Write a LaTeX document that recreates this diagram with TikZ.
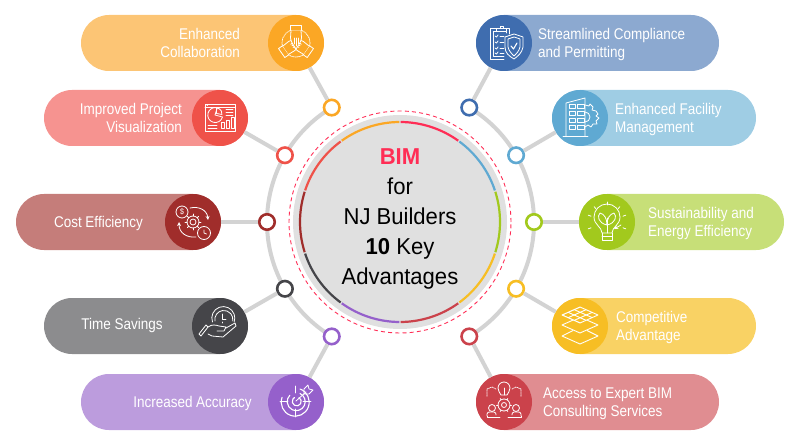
\documentclass[tikz,border=0pt]{standalone}
\usepackage{fontspec}
\setmainfont[FakeStretch=0.87]{Liberation Sans}
\newfontfamily\titlefont[FakeStretch=0.96]{Liberation Sans}
\usetikzlibrary{calc}
\definecolor{pOr}{HTML}{FCC575}\definecolor{cOr}{HTML}{FBA725}
\definecolor{pRe}{HTML}{F69390}\definecolor{cRe}{HTML}{EF5249}
\definecolor{pBr}{HTML}{C57D7A}\definecolor{cBr}{HTML}{A02D2B}
\definecolor{pGy}{HTML}{8C8C8E}\definecolor{cGy}{HTML}{454549}
\definecolor{pPu}{HTML}{BC9CDD}\definecolor{cPu}{HTML}{9560CB}
\definecolor{pBl}{HTML}{8CA9D0}\definecolor{cBl}{HTML}{3F6DAF}
\definecolor{pLb}{HTML}{9FCDE4}\definecolor{cLb}{HTML}{5FA9D2}
\definecolor{pGr}{HTML}{C7DF78}\definecolor{cGr}{HTML}{A2C91D}
\definecolor{pYe}{HTML}{F9D264}\definecolor{cYe}{HTML}{F7BE24}
\definecolor{pRo}{HTML}{E08D91}\definecolor{cRo}{HTML}{CB424B}
\definecolor{cPk}{HTML}{FF2D55}\definecolor{ringgray}{HTML}{D3D3D3}\definecolor{discgray}{HTML}{E0E0E0}
\tikzset{
  pill/.style={rectangle,rounded corners=28pt,minimum height=56pt,inner sep=0pt,draw=none},
  badge/.style={circle,minimum size=56pt,inner sep=0pt,draw=none},
  dotn/.style={circle,minimum size=15.5pt,inner sep=0pt,line width=2.6pt,fill=white},
  link/.style={draw=ringgray,line width=4pt},
  ptext/.style={text=white,font=\fontsize{15.5}{18}\selectfont,inner sep=0pt},
  ic/.style={draw=white,line width=.8pt,line cap=round,line join=round},
  seg/.style={line width=2.2pt},
}
\begin{document}
\begin{tikzpicture}[x=1pt,y=1pt]
\useasboundingbox (0,0) rectangle (800,445);
\coordinate (c) at (400,223);
\coordinate (rc) at (400.5,223);
% disc
\node[circle,fill=discgray,minimum size=214pt,inner sep=0pt] (disc) at (c) {};
\draw[cPk,line width=.9pt,dash pattern=on 4pt off 3.2pt] (c) circle[radius=111];
\foreach \s/\col in {90/cPk,54/cLb,18/cGr,-18/cYe,-54/cRo,-90/cPu,-126/cGy,-162/cBr,-198/cRe,-234/cOr}{
  \draw[seg,\col] ($(c)+(\s-.4:100)$) arc[start angle=\s-.4,end angle=\s-35.6,radius=100];
}
\node[align=center,inner sep=0pt,text=black,font=\titlefont\fontsize{23}{30}\selectfont] (title) at (400,226)
  {{\bfseries\color{cPk}BIM}\\for\\NJ Builders\\{\bfseries 10} Key\\Advantages};
% outer ring
\draw[link] ($(rc)+(121:133.5)$) arc[start angle=121,end angle=239,radius=133.5];
\draw[link] ($(rc)+(59:133.5)$) arc[start angle=59,end angle=-59,radius=133.5];
% pills
\node[pill,fill=pOr,minimum width=243pt] (p1) at (202.5,402) {};
\node[pill,fill=pRe,minimum width=204pt] (p2) at (146,327) {};
\node[pill,fill=pBr,minimum width=205pt] (p3) at (118.5,223) {};
\node[pill,fill=pGy,minimum width=204pt] (p4) at (146,119) {};
\node[pill,fill=pPu,minimum width=243pt] (p5) at (202.5,43) {};
\node[pill,fill=pBl,minimum width=243pt] (p6) at (597.5,402) {};
\node[pill,fill=pLb,minimum width=204pt] (p7) at (654,327) {};
\node[pill,fill=pGr,minimum width=205pt] (p8) at (681.5,223) {};
\node[pill,fill=pYe,minimum width=204pt] (p9) at (654,119) {};
\node[pill,fill=pRo,minimum width=243pt] (p10) at (597.5,43) {};
% badges
\node[badge,fill=cOr] (b1) at (296,402) {};
\node[badge,fill=cRe] (b2) at (220,327) {};
\node[badge,fill=cBr] (b3) at (193,223) {};
\node[badge,fill=cGy] (b4) at (220,119) {};
\node[badge,fill=cPu] (b5) at (296,43) {};
\node[badge,fill=cBl] (b6) at (504,402) {};
\node[badge,fill=cLb] (b7) at (580,327) {};
\node[badge,fill=cGr] (b8) at (607,223) {};
\node[badge,fill=cYe] (b9) at (580,119) {};
\node[badge,fill=cRo] (b10) at (504,43) {};
% dots
\node[dotn,draw=cOr] (d1) at ($(rc)+(121:133.5)$) {};
\node[dotn,draw=cRe] (d2) at ($(rc)+(150:133.5)$) {};
\node[dotn,draw=cBr] (d3) at ($(rc)+(180:133.5)$) {};
\node[dotn,draw=cGy] (d4) at ($(rc)+(210:133.5)$) {};
\node[dotn,draw=cPu] (d5) at ($(rc)+(239:133.5)$) {};
\node[dotn,draw=cBl] (d6) at ($(rc)+(59:133.5)$) {};
\node[dotn,draw=cLb] (d7) at ($(rc)+(30:133.5)$) {};
\node[dotn,draw=cGr] (d8) at ($(rc)+(0:133.5)$) {};
\node[dotn,draw=cYe] (d9) at ($(rc)+(-30:133.5)$) {};
\node[dotn,draw=cRo] (d10) at ($(rc)+(-59:133.5)$) {};
% connectors
\foreach \i in {1,...,10}{\draw[link] (d\i) -- (b\i);}
% texts
\node[ptext,anchor=east,align=right] (t1) at (240,402) {Enhanced\\Collaboration};
\node[ptext,anchor=east,align=right] (t2) at (182,327) {Improved Project\\Visualization};
\node[ptext,anchor=center] (t3) at (98.5,222) {Cost Efficiency};
\node[ptext,anchor=center] (t4) at (122,120) {Time Savings};
\node[ptext,anchor=center] (t5) at (192.5,42) {Increased Accuracy};
\node[ptext,anchor=west,align=left] (t6) at (538,401) {Streamlined Compliance\\and Permitting};
\node[ptext,anchor=west,align=left] (t7) at (615,326) {Enhanced Facility\\Management};
\node[ptext,anchor=west,align=left] (t8) at (648,222) {Sustainability and\\Energy Efficiency};
\node[ptext,anchor=west,align=left] (t9) at (616,118) {Competitive\\Advantage};
\node[ptext,anchor=west,align=left] (t10) at (543,41) {Access to Expert BIM\\Consulting Services};
% ---------- icons
% hands
\begin{scope}[shift={(b1.center)},ic]
\draw[densely dotted] (0,0) circle[radius=14];
\foreach \a in {125,235,0}{
 \begin{scope}[rotate=\a]
 \draw[fill=cOr] (-5.5,12.5) rectangle (5.5,17.5);
 \draw[fill=cOr] (-5,12.5) -- (-5.5,5) .. controls (-5,1) and (-2,-3) .. (0,-6) .. controls (2,-3) and (5,1) .. (5.5,5) -- (5,12.5);
 \draw (-2,5) -- (-2,-1) (0,5) -- (0,-3) (2,5) -- (2,-1);
 \end{scope}}
\end{scope}
% dashboard
\begin{scope}[shift={(b2.center)},ic]
\draw (-15,-13) rectangle (15,14);
\draw (-15,10.5) -- (15,10.5);
\draw (-13,12.2) -- (-12.5,12.2);
\draw (2.5,1) arc[start angle=-15,end angle=-285,radius=7.5] -- (-5,3) -- cycle;
\draw (-3.5,4.5) -- (-3.5,10) arc[start angle=90,end angle=-10,radius=5.5] -- cycle;
\draw (6,9) -- (13,9) (6,6) -- (13,6) (6,3) -- (13,3);
\draw (-12,-7) -- (-3,-7) (-12,-10) -- (-3,-10);
\draw (1,-10) rectangle (4,-4) (6,-10) rectangle (9,-2) (11,-10) rectangle (14,1);
\end{scope}
% cost
\begin{scope}[shift={(b3.center)},ic]
\draw (-11,10) circle[radius=6];
\node[text=white,font=\fontsize{8}{8}\selectfont,inner sep=0pt] (dollar) at (-11,10) {\$};
\draw (0,0) circle[radius=3] (0,0) circle[radius=6];
\foreach \a in {0,45,...,315}{\draw (\a:6) -- (\a:8);}
\draw (11,-11) circle[radius=6.5];
\draw (11,-8) -- (11,-11) -- (13.5,-12);
\draw[-stealth] (-3,14) .. controls (6,16) and (14,12) .. (15,2);
\draw[-stealth] (3,-15) .. controls (-6,-16) and (-14,-11) .. (-14,0);
\end{scope}
% time savings
\begin{scope}[shift={(b4.center)},ic]
\draw (-7.5,4) arc[start angle=200,end angle=-20,radius=11.5];
\draw (-5,5) arc[start angle=190,end angle=-10,radius=9];
\draw (2,12) -- (2,7) -- (6,7);
\draw (2,3) -- (2,4);
\draw (-19,-10) -- (-12,-1) -- (-14,1) -- (-21,-8) -- cycle;
\draw (-12,-1) .. controls (-8,2) and (-4,1) .. (-1,0) -- (6,-1) -- (4,-5) -- (-3,-5);
\draw (6,-2) -- (15,3) -- (16,0) -- (3,-11) -- (-8,-10) -- (-12,-8);
\end{scope}
% target
\begin{scope}[shift={(b5.center)},ic]
\draw (-1,16) -- (-1,9) (-1,-7) -- (-1,-15) (-16,1) -- (-8,1) (7,1) -- (15,1);
\begin{scope}[line width=1.1pt]
\draw (4,13) arc[start angle=70,end angle=-200,radius=14];
\draw (4,8.5) arc[start angle=65,end angle=-225,radius=9];
\draw (3,4.5) arc[start angle=60,end angle=-240,radius=4.5];
\end{scope}
\draw (0,1) -- (10,10);
\draw (8,8) -- (8,13) -- (12,17) -- (13,13) -- (17,12) -- (13,8) -- cycle;
\end{scope}
% compliance
\begin{scope}[shift={(b6.center)},ic]
\draw (5,9) -- (5,15) -- (-14,15) -- (-14,-16) -- (0,-16);
\draw (2,10) -- (2,12) -- (-11,12) -- (-11,-13) -- (0,-13);
\draw (-8,12) -- (-8,15) -- (-4,15) -- (-4,17) -- (-1,17) -- (-1,15) -- (2,15) -- (2,12);
\foreach \y in {7,1,-5,-10}{\draw (-9,\y) -- (-7.5,\y-1) -- (-6,\y+1); \draw (-4,\y) -- (0,\y);}
\draw (10,9) -- (19,6) -- (19,-4) .. controls (18,-10) and (14,-13) .. (10,-16) .. controls (5,-13) and (1,-10) .. (1,-4) -- (1,6) -- cycle;
\draw (10,6) -- (16,4) -- (16,-4) .. controls (15,-8) and (13,-10) .. (10,-13) .. controls (7,-10) and (5,-8) .. (4,-4) -- (4,4) -- cycle;
\draw[line width=1.1pt] (7,-3) -- (9.5,-6) -- (13,0);
\end{scope}
% facility
\begin{scope}[shift={(b7.center)},ic]
\draw (-17,-18) -- (8,-18);
\draw (-14,-18) -- (-14,15) -- (5,20) -- (5,-18);
\foreach \y in {10,3,-4,-11}{\draw (-11,\y) rectangle (-5,\y+3.5); \draw (-3,\y) rectangle (4,\y+3.5);}
\draw (5,6) arc[start angle=90,end angle=-90,radius=5];
\draw (5,13) -- (9,12) -- (10,14) -- (13,11) -- (12,8) -- (16,7) -- (18,4) -- (16,2) -- (19,0) -- (16,-3) -- (17,-6) -- (13,-6) -- (11,-9) -- (8,-7) -- (5,-9);
\end{scope}
% bulb
\begin{scope}[shift={(b8.center)},ic]
\draw (-5,-11) .. controls (-5,-5) and (-13,-3) .. (-13,5) arc[start angle=180,end angle=0,radius=13] .. controls (13,-3) and (5,-5) .. (5,-11) -- cycle;
\draw (-5,-11) -- (-5,-18) -- (5,-18) -- (5,-11);
\draw (-5,-14) -- (5,-14);
\draw (0,-11) -- (0,4);
\draw (0,-3) .. controls (-9,-1) and (-10,6) .. (-7,9) .. controls (-3,8) and (0,4) .. (0,-3);
\draw (0,-3) .. controls (9,-1) and (10,6) .. (7,9) .. controls (3,8) and (0,4) .. (0,-3);
\foreach \a in {20,50,90,130,160,200,-20}{\draw (\a:17) -- (\a:20);}
\draw[-stealth] (14,-3) -- (7,-7);
\end{scope}
% layers
\begin{scope}[shift={(b9.center)},ic,line width=.9pt]
\draw (-18,-10) -- (-7,-4.5) (7,-4.5) -- (18,-10) -- (0,-18) -- (-18,-10);
\draw[fill=cYe] (-18,1) -- (0,9) -- (18,1) -- (0,-7) -- cycle;
\draw[fill=cYe] (-18,11) -- (0,19) -- (18,11) -- (0,3) -- cycle;
\clip (-18,11) -- (0,19) -- (18,11) -- (0,3) -- cycle;
\foreach \t in {-12,-6,0,6,12}{
 \draw (\t-18,11-\t/2.2) -- (\t+18,11-\t/2.2+16);
 \draw (\t-18,11+\t/2.2) -- (\t+18,11+\t/2.2-16);
}
\end{scope}
% consulting
\begin{scope}[shift={(b10.center)},ic]
\draw (-3,7) .. controls (-4,9) and (-6,11) .. (-6,14) arc[start angle=180,end angle=0,radius=6] .. controls (6,11) and (4,9) .. (3,7) -- cycle;
\draw (0,7) -- (0,14);
\draw (0,-3) circle[radius=2.5] (0,-3) circle[radius=6];
\foreach \a in {0,60,...,300}{\draw ($(0,-3)+(\a:6)$) -- ($(0,-3)+(\a:7.5)$);}
\foreach \s in {-1,1}{
 \draw[densely dotted] (\s*8,13) -- (\s*12,15) -- (\s*17,13) -- (\s*17,5);
 \draw (\s*12,-6) circle[radius=3.5];
 \draw (\s*17,-14) -- (\s*17,-12) .. controls (\s*17,-10) and (\s*15,-10) .. (\s*14,-10) -- (\s*10,-10) .. controls (\s*8,-10) and (\s*8,-12) .. (\s*8,-13);
 \draw (\s*17,-14) -- (\s*17,-15) -- (\s*4,-15);
}
\end{scope}
\end{tikzpicture}
\end{document}
